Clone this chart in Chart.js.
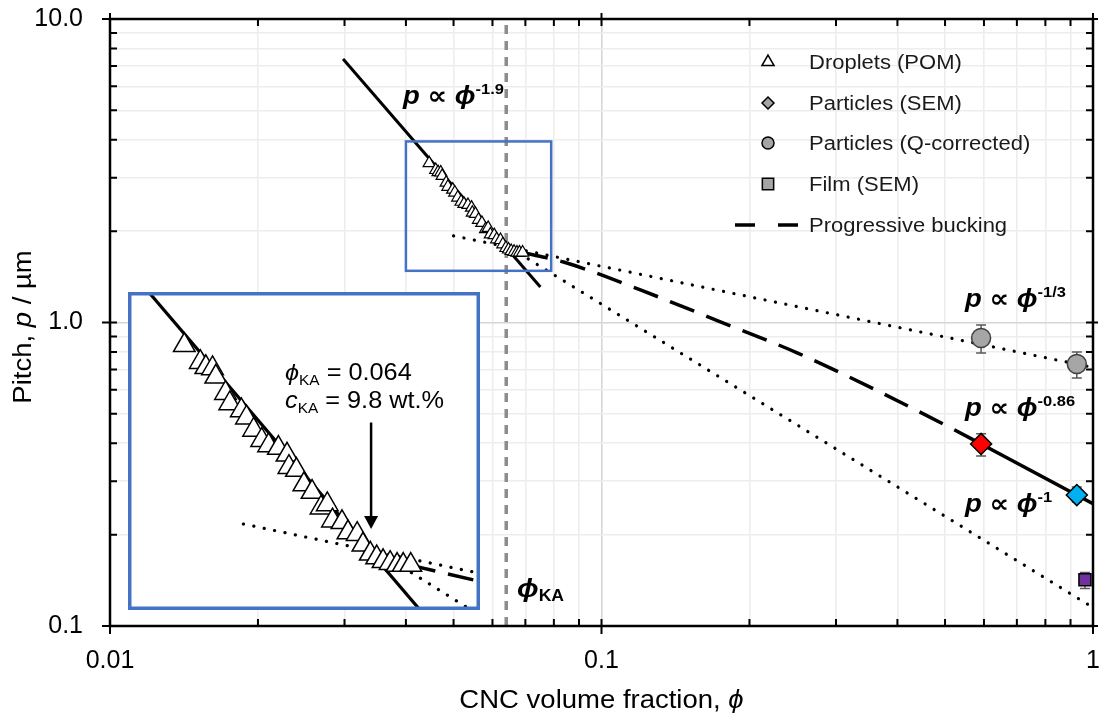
<!DOCTYPE html>
<html>
<head>
<meta charset="utf-8">
<script src="https://cdn.jsdelivr.net/npm/chart.js@4/dist/chart.umd.min.js"></script>
<style>
  html, body { margin: 0; padding: 0; background: #fff; }
  #wrap { position: relative; width: 1099px; height: 717px; }
  #main { position: absolute; left: 0; top: 0; }
  #inset { position: absolute; left: 128px; top: 292px; }
</style>
</head>
<body>
<div id="wrap">
  <canvas id="main" width="1099" height="717"></canvas>
  <canvas id="inset" width="352" height="318"></canvas>
</div>
<script>
// Pitch vs CNC volume fraction, log-log, with a magnified inset around phi_KA.

const X_LABELS = ["0.01", "0.1", "1"];     // decades 1e-2 .. 1e0
const Y_LABELS = ["0.1", "1.0", "10.0"];   // decades 1e-1 .. 1e1

// Droplets (POM)
const POM_PHI = [0.0446, 0.0460, 0.0465, 0.0471, 0.0474, 0.0483, 0.0487, 0.0498, 0.0503, 0.0510, 0.0518,
  0.0525, 0.0535, 0.0544, 0.0546, 0.0554, 0.0562, 0.0571, 0.0581, 0.0588, 0.0594, 0.0605, 0.0612, 0.0623,
  0.0630, 0.0639, 0.0647, 0.0655, 0.0664, 0.0673, 0.0681, 0.0691];
const POM_P = [3.35, 3.18, 3.13, 3.12, 3.04, 2.89, 2.80, 2.74, 2.68, 2.58, 2.50,
  2.46, 2.44, 2.39, 2.30, 2.28, 2.18, 2.13, 2.03, 2.05, 1.95, 1.94, 1.88, 1.87,
  1.81, 1.76, 1.74, 1.72, 1.71, 1.70, 1.70, 1.70];

// Particles (SEM)
const SEM_PHI = [0.592, 0.927];
const SEM_P = [0.398, 0.270];
const SEM_LO = [0.363, 0.256];
const SEM_HI = [0.430, 0.287];
const SEM_COLORS = ["#FF0000", "#00B0F0"];

// Particles (Q-corrected)
const Q_PHI = [0.592, 0.927];
const Q_P = [0.889, 0.730];
const Q_LO = [0.793, 0.656];
const Q_HI = [0.981, 0.800];

// Film (SEM)
const FILM_PHI = [0.963];
const FILM_P = [0.142];
const FILM_LO = [0.133];
const FILM_HI = [0.150];

// Power-law guides and progressive buckling curve
const FIT19_PHI = [0.0298, 0.0751], FIT19_P = [7.38, 1.31];
const FIT13_PHI = [0.050, 1.0], FIT13_P = [1.93, 0.711];
const FIT1_PHI = [0.068, 1.0], FIT1_P = [1.69, 0.115];
const FIT086_PHI = [0.592, 1.0], FIT086_P = [0.398, 0.253];
const BUCKLE_PHI = [0.069, 0.0837, 0.120, 0.173, 0.2507, 0.358, 0.514, 0.592];
const BUCKLE_P = [1.70, 1.582, 1.280, 1.011, 0.793, 0.604, 0.449, 0.398];

const PHI_KA = 0.064;
const ARROW_P = [2.64, 1.90];
const INSET_PHI = [0.0400, 0.0790];
const INSET_P = [1.48, 3.95];

const FONT = '"Liberation Sans", Arial, "DejaVu Sans", sans-serif';
const SX = 1.1; // reference text is a touch wide
const BLUE = "#4472C4";

const pts = (xs, ys) => xs.map((x, i) => ({ x, y: ys[i] }));
const isDecade = (v) => Math.abs(Math.log10(v) - Math.round(Math.log10(v))) < 1e-6;
const isWhole = (v) => { const s = v / Math.pow(10, Math.floor(Math.log10(v) + 1e-9)); return Math.abs(s - Math.round(s)) < 1e-6; };

function rich(ctx, x, y, parts, align) {
  ctx.save();
  ctx.textBaseline = "alphabetic";
  ctx.textAlign = "left";
  let w = 0;
  for (const p of parts) { ctx.font = p.f; w += ctx.measureText(p.t).width; }
  ctx.translate(x, y);
  ctx.scale(SX, 1);
  let cx = align === "center" ? -w / 2 : 0;
  for (const p of parts) {
    ctx.font = p.f;
    ctx.fillStyle = p.c || "#000";
    ctx.fillText(p.t, cx, p.dy || 0);
    cx += ctx.measureText(p.t).width;
  }
  ctx.restore();
}

function lineDs(xs, ys, style) {
  return Object.assign({ data: pts(xs, ys), showLine: true, pointRadius: 0, borderColor: "#000", borderWidth: 3, fill: false, tension: 0, order: 5 }, style);
}
const DOTTED = { borderWidth: 3.2, borderDash: [0.1, 10.5], borderCapStyle: "round" };
const DASHED = { borderWidth: 3.5, borderDash: [26, 13] };

function errorBars(chart, sets) {
  const { ctx, scales: { x, y } } = chart;
  ctx.save();
  ctx.strokeStyle = "#595959";
  ctx.lineWidth = 1.5;
  for (const s of sets) {
    s.phi.forEach((phi, i) => {
      const px = x.getPixelForValue(phi), y1 = y.getPixelForValue(s.lo[i]), y2 = y.getPixelForValue(s.hi[i]);
      ctx.beginPath();
      ctx.moveTo(px, y1); ctx.lineTo(px, y2);
      ctx.moveTo(px - 5, y1); ctx.lineTo(px + 5, y1);
      ctx.moveTo(px - 5, y2); ctx.lineTo(px + 5, y2);
      ctx.stroke();
    });
  }
  ctx.restore();
}

const mainPlugin = {
  id: "mainDecor",
  beforeDraw(chart) {
    const { ctx, width, height } = chart;
    ctx.save(); ctx.fillStyle = "#fff"; ctx.fillRect(0, 0, width, height); ctx.restore();
  },
  beforeDatasetsDraw(chart) {
    errorBars(chart, [
      { phi: SEM_PHI, lo: SEM_LO, hi: SEM_HI },
      { phi: Q_PHI, lo: Q_LO, hi: Q_HI },
      { phi: FILM_PHI, lo: FILM_LO, hi: FILM_HI },
    ]);
  },
  afterDatasetsDraw(chart) {
    const { ctx, chartArea: a, scales: { x, y } } = chart;
    ctx.save();
    // zoom box
    const bx1 = x.getPixelForValue(INSET_PHI[0]), bx2 = x.getPixelForValue(INSET_PHI[1]);
    const by1 = y.getPixelForValue(INSET_P[1]), by2 = y.getPixelForValue(INSET_P[0]);
    ctx.strokeStyle = BLUE; ctx.lineWidth = 2.5;
    ctx.strokeRect(bx1, by1, bx2 - bx1, by2 - by1);

    // frame + ticks
    ctx.strokeStyle = "#000"; ctx.lineWidth = 2.5;
    ctx.strokeRect(a.left, a.top, a.right - a.left, a.bottom - a.top);
    ctx.lineWidth = 2;
    ctx.beginPath();
    for (const t of x.ticks) {
      const px = x.getPixelForValue(t.value), maj = isDecade(t.value);
      ctx.moveTo(px, a.bottom + (maj ? 8 : 0)); ctx.lineTo(px, a.bottom - 7);
      ctx.moveTo(px, a.top - (maj ? 6 : 0)); ctx.lineTo(px, a.top + 7);
    }
    for (const t of y.ticks) {
      const py = y.getPixelForValue(t.value), maj = isDecade(t.value);
      ctx.moveTo(a.left - (maj ? 8 : 0), py); ctx.lineTo(a.left + 7, py);
      ctx.moveTo(a.right + (maj ? 5 : 0), py); ctx.lineTo(a.right - 7, py);
    }
    ctx.stroke();

    // axis titles
    rich(ctx, (a.left + a.right) / 2, 708, [
      { t: "CNC volume fraction, ", f: `25px ${FONT}` },
      { t: "ϕ", f: `italic 25px ${FONT}` },
    ], "center");
    ctx.save();
    ctx.translate(31, 327);
    ctx.rotate(-Math.PI / 2);
    rich(ctx, 0, 0, [
      { t: "Pitch, ", f: `25px ${FONT}` },
      { t: "p", f: `italic 25px ${FONT}` },
      { t: " / µm", f: `25px ${FONT}` },
    ], "center");
    ctx.restore();

    // power-law labels
    const bi = `bold italic 25px ${FONT}`, sup = `bold 15px ${FONT}`;
    const law = (px, py, e) => rich(ctx, px, py, [{ t: "p ∝ ", f: bi }, { t: "ϕ", f: bi }, { t: e, f: sup, dy: -10 }]);
    law(403, 104, "-1.9");
    law(965, 307, "-1/3");
    law(965, 416, "-0.86");
    law(965, 512, "-1");
    rich(ctx, 517, 597, [{ t: "ϕ", f: `bold italic 26px ${FONT}` }, { t: "KA", f: `bold 16px ${FONT}`, dy: 4 }]);

    // legend
    const LX = 768, TX = 809, rows = [62, 103, 143, 184, 225];
    const marks = [
      { pointStyle: "triangle", radius: 7, bg: "#fff" },
      { pointStyle: "rectRot", radius: 6, bg: "#A5A5A5" },
      { pointStyle: "circle", radius: 6, bg: "#A5A5A5" },
      { pointStyle: "rect", radius: 8, bg: "#A5A5A5" },
    ];
    const names = ["Droplets (POM)", "Particles (SEM)", "Particles (Q-corrected)", "Film (SEM)", "Progressive bucking"];
    marks.forEach((m, i) => {
      ctx.fillStyle = m.bg; ctx.strokeStyle = "#000"; ctx.lineWidth = 1.5; ctx.setLineDash([]);
      Chart.helpers.drawPoint(ctx, { pointStyle: m.pointStyle, radius: m.radius, rotation: 0, borderWidth: 1.5 }, LX, rows[i]);
    });
    ctx.strokeStyle = "#000"; ctx.lineWidth = 3.5; ctx.setLineDash([20, 23]);
    ctx.beginPath(); ctx.moveTo(735, rows[4]); ctx.lineTo(800, rows[4]); ctx.stroke();
    ctx.setLineDash([]);
    names.forEach((n, i) => rich(ctx, TX, rows[i] + 7, [{ t: n, f: `20px ${FONT}`, c: "#1a1a1a" }]));
    ctx.restore();
  },
};

const noPad = (s) => { s.paddingTop = 0; s.paddingBottom = 0; s.paddingLeft = 0; s.paddingRight = 0; };

const logAxis = (min, max, labels, lo) => ({
  type: "logarithmic", min, max,
  afterBuildTicks: (s) => { s.ticks = s.ticks.filter((t) => isWhole(t.value)); },
  grid: {
    drawTicks: false,
    color: (c) => (c.tick && isDecade(c.tick.value) ? "#D6D6D6" : "#EDEDED"),
    lineWidth: 1.6,
  },
  border: { display: false },
  ticks: {
    autoSkip: false, maxRotation: 0, color: "#000",
    font: { family: FONT, size: 25 },
    callback: (v) => (isDecade(v) ? labels[Math.round(Math.log10(v)) - lo] : ""),
  },
});

const xAxis = logAxis(0.01, 1, X_LABELS, -2);
xAxis.ticks.padding = 20;
xAxis.afterFit = (s) => { s.height = 91; noPad(s); };
const yAxis = logAxis(0.1, 10, Y_LABELS, -1);
yAxis.ticks.padding = 27;
yAxis.afterFit = (s) => { s.width = 110; noPad(s); };

new Chart(document.getElementById("main"), {
  type: "scatter",
  data: {
    datasets: [
      { data: pts(POM_PHI, POM_P), pointStyle: "triangle", pointRadius: 7, backgroundColor: "#fff", borderColor: "#000", borderWidth: 1.2, order: 1 },
      { data: pts(SEM_PHI, SEM_P), pointStyle: "rectRot", pointRadius: 10.5, backgroundColor: SEM_COLORS, borderColor: "#000", borderWidth: 1.5, order: 0 },
      { data: pts(Q_PHI, Q_P), pointStyle: "circle", pointRadius: 9.5, backgroundColor: "#A6A6A6", borderColor: "#404040", borderWidth: 1.5, order: 0 },
      { data: pts(FILM_PHI, FILM_P), pointStyle: "rect", pointRadius: 8.5, backgroundColor: "#7030A0", borderColor: "#000", borderWidth: 1.5, order: 0 },
      lineDs(FIT19_PHI, FIT19_P, { borderWidth: 3 }),
      lineDs(FIT086_PHI, FIT086_P, { borderWidth: 3.5 }),
      lineDs(FIT13_PHI, FIT13_P, DOTTED),
      lineDs(FIT1_PHI, FIT1_P, DOTTED),
      lineDs(BUCKLE_PHI, BUCKLE_P, Object.assign({ cubicInterpolationMode: "monotone" }, DASHED)),
      lineDs([PHI_KA, PHI_KA], [0.1, 10], { borderColor: "#8C8C8C", borderWidth: 3.5, borderDash: [9, 7], order: 6 }),
    ],
  },
  options: {
    responsive: false, animation: false, events: [],
    layout: { autoPadding: false, padding: { top: 19, right: 6, left: 0, bottom: 0 } },
    plugins: { legend: { display: false }, tooltip: { enabled: false } },
    scales: { x: xAxis, y: yAxis },
  },
  plugins: [mainPlugin],
});

// Inset: same data, magnified to the blue box
const insetPlugin = {
  id: "insetDecor",
  beforeDraw(chart) {
    const { ctx, width, height } = chart;
    ctx.save(); ctx.fillStyle = "#fff"; ctx.fillRect(0, 0, width, height); ctx.restore();
  },
  afterDatasetsDraw(chart) {
    const { ctx, width, height, scales: { x, y } } = chart;
    ctx.save();
    // arrow at phi_KA
    const ax = x.getPixelForValue(PHI_KA), ay1 = y.getPixelForValue(ARROW_P[0]), ay2 = y.getPixelForValue(ARROW_P[1]);
    ctx.strokeStyle = "#000"; ctx.fillStyle = "#000"; ctx.lineWidth = 2.5;
    ctx.beginPath(); ctx.moveTo(ax, ay1); ctx.lineTo(ax, ay2 - 10); ctx.stroke();
    ctx.beginPath(); ctx.moveTo(ax - 7, ay2 - 13); ctx.lineTo(ax + 7, ay2 - 13); ctx.lineTo(ax, ay2); ctx.closePath(); ctx.fill();

    const f = `23px ${FONT}`, fi = `italic 23px ${FONT}`, fs = `14px ${FONT}`;
    rich(ctx, 157, 88, [{ t: "ϕ", f: fi }, { t: "KA", f: fs, dy: 5 }, { t: " = 0.064", f }]);
    rich(ctx, 157, 116, [{ t: "c", f: fi }, { t: "KA", f: fs, dy: 5 }, { t: " = 9.8 wt.%", f }]);

    ctx.strokeStyle = BLUE; ctx.lineWidth = 3.5;
    ctx.strokeRect(1.75, 1.75, width - 3.5, height - 3.5);
    ctx.restore();
  },
};

new Chart(document.getElementById("inset"), {
  type: "scatter",
  data: {
    datasets: [
      { data: pts(POM_PHI, POM_P), pointStyle: "triangle", pointRadius: 12.5, backgroundColor: "#fff", borderColor: "#000", borderWidth: 1.5, order: 1 },
      lineDs(FIT19_PHI, FIT19_P, { borderWidth: 3.2 }),
      lineDs(FIT13_PHI, FIT13_P, DOTTED),
      lineDs(FIT1_PHI, FIT1_P, DOTTED),
      lineDs(BUCKLE_PHI, BUCKLE_P, DASHED),
    ],
  },
  options: {
    responsive: false, animation: false, events: [],
    layout: { autoPadding: false, padding: 0 },
    plugins: { legend: { display: false }, tooltip: { enabled: false } },
    scales: {
      x: { type: "logarithmic", display: false, min: INSET_PHI[0], max: INSET_PHI[1] },
      y: { type: "logarithmic", display: false, min: INSET_P[0], max: INSET_P[1] },
    },
  },
  plugins: [insetPlugin],
});
</script>
</body>
</html>
